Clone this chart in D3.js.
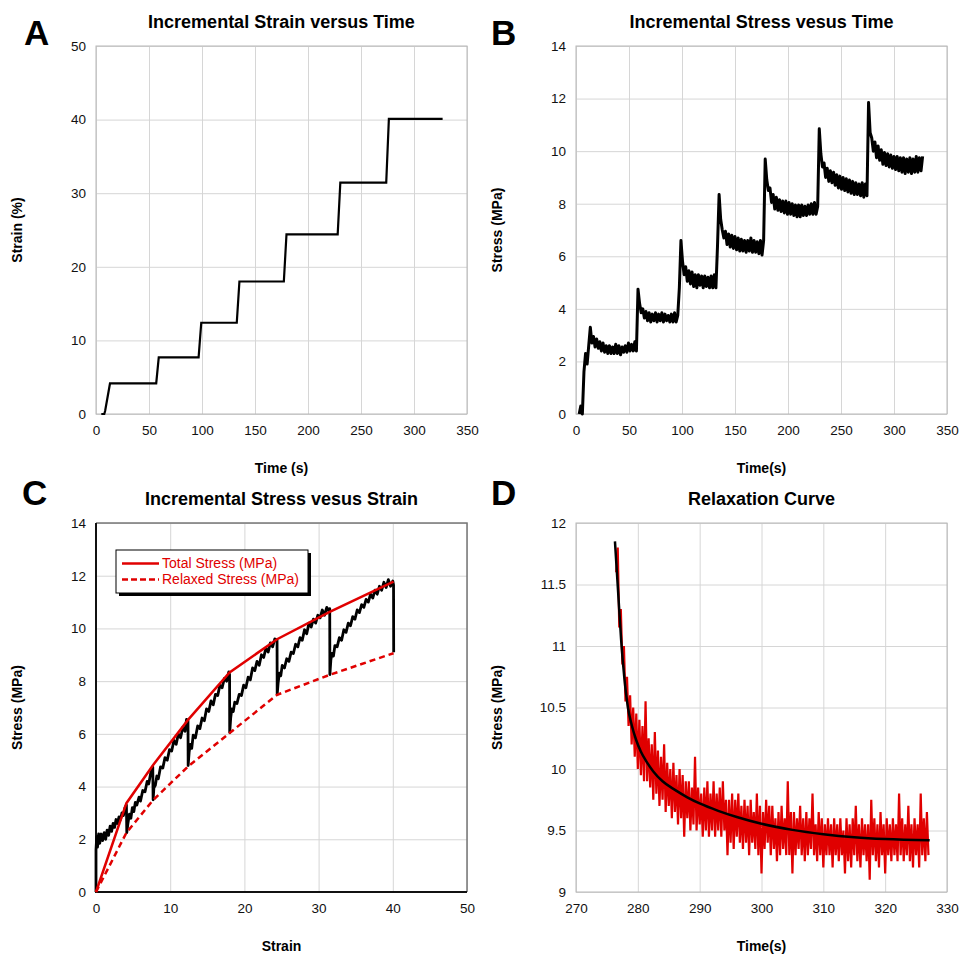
<!DOCTYPE html>
<html>
<head>
<meta charset="utf-8">
<script src="https://cdn.jsdelivr.net/npm/d3@7"></script>
<style>
body { margin: 0; background: #fff; }
svg text { font-family: Arial, "Liberation Sans", sans-serif; }
.grid line { stroke: #d6d6d6; stroke-width: 1; }
.grid text { font-size: 13.5px; fill: #111; }
</style>
</head>
<body>
<div id="chart"></div>
<script>
// ---- tick values
const timeTicks = [0, 50, 100, 150, 200, 250, 300, 350];
const strainTicksA = [0, 10, 20, 30, 40, 50];
const stressTicks = [0, 2, 4, 6, 8, 10, 12, 14];
const strainTicksC = [0, 10, 20, 30, 40, 50];
const relaxTimeTicks = [270, 280, 290, 300, 310, 320, 330];
const relaxStressTicks = [9, 9.5, 10, 10.5, 11, 11.5, 12];

// ---- A: strain (%) vs time (s)
const strainTime = [5, 7.8, 8.6, 13.2, 56.8, 59.2, 96.8, 99.3, 132.8, 135.3, 177.2, 179.7, 228, 230.5, 273.8, 276.3, 327];
const strainVal  = [0, 0, 0.4, 4.15, 4.15, 7.7, 7.7, 12.4, 12.4, 18.0, 18.0, 24.4, 24.4, 31.45, 31.45, 40.1, 40.1];

// ---- B: stress (MPa) sampled every 1.5 s from t = 3 s
const stressStart = 3, stressStep = 1.5;
const stressVal = [
  0.0, 0.3, 0.0, 1.6, 2.3, 1.9, 2.6, 3.3, 2.7, 2.95,
  2.55, 2.85, 2.5, 2.75, 2.4, 2.7, 2.35, 2.6, 2.3, 2.6,
  2.3, 2.55, 2.3, 2.65, 2.3, 2.6, 2.25, 2.55, 2.35, 2.6,
  2.35, 2.7, 2.4, 2.65, 2.4, 2.75, 2.4,
  4.75, 4.2, 3.85, 4.0, 3.65, 3.9, 3.55, 3.85, 3.5, 3.8,
  3.55, 3.85, 3.5, 3.8, 3.55, 3.85, 3.5, 3.8, 3.55, 3.75,
  3.5, 3.8, 3.5, 3.85, 3.5, 3.75,
  4.8, 6.6, 5.8, 5.3, 5.6, 5.05, 5.45, 4.95, 5.4, 4.85,
  5.3, 4.8, 5.3, 4.9, 5.25, 4.8, 5.25, 4.85, 5.2, 4.8,
  5.25, 4.8, 5.3, 4.8,
  6.4, 8.35, 7.4, 7.0, 6.7, 6.95, 6.45, 6.85, 6.35, 6.8,
  6.3, 6.75, 6.25, 6.7, 6.2, 6.65, 6.2, 6.6, 6.15, 6.6,
  6.2, 6.7, 6.15, 6.6, 6.15, 6.55, 6.1, 6.6, 6.05, 6.6,
  9.7, 8.9, 8.5, 8.6, 8.05, 8.35, 7.8, 8.25, 7.75, 8.15,
  7.7, 8.1, 7.65, 8.1, 7.6, 8.05, 7.6, 8.0, 7.55, 7.95,
  7.5, 7.95, 7.5, 7.95, 7.55, 7.9, 7.55, 7.95, 7.6, 8.0,
  7.6, 8.05, 7.6, 7.9,
  10.85, 9.9, 9.4, 9.55, 9.0, 9.35, 8.85, 9.25, 8.8, 9.2,
  8.7, 9.1, 8.6, 9.05, 8.55, 9.0, 8.5, 8.95, 8.45, 8.9,
  8.4, 8.85, 8.35, 8.8, 8.35, 8.75, 8.3, 8.8, 8.25, 8.75,
  8.3,
  11.85, 10.7, 10.5, 10.0, 10.35, 9.75, 10.2, 9.65, 10.05, 9.5,
  9.95, 9.45, 9.9, 9.4, 9.85, 9.35, 9.8, 9.3, 9.8, 9.25,
  9.75, 9.2, 9.75, 9.15, 9.7, 9.2, 9.75, 9.15, 9.7, 9.2,
  9.8, 9.2, 9.75, 9.25, 9.8
];

// ---- C: stress vs strain trace, peak (total) and relaxed envelopes
const cTrace = [
  [0, 0], [0, 1.6], [0.1, 2.1], [0.2, 1.7], [0.35, 2.2], [0.5, 1.85], [0.7, 2.2], [0.9, 1.95],
  [1.1, 2.25], [1.3, 2.0], [1.5, 2.35], [1.7, 2.15], [1.9, 2.5], [2.1, 2.3], [2.3, 2.6], [2.5, 2.45],
  [2.7, 2.75], [2.9, 2.6], [3.1, 2.85], [3.3, 2.75], [3.5, 3.0], [3.7, 2.9], [3.9, 3.2], [4.1, 3.3],
  [4.15, 2.25],
  [4.3, 2.6], [4.5, 2.95], [4.7, 2.8], [4.9, 3.2], [5.1, 3.05], [5.3, 3.4], [5.5, 3.3], [5.8, 3.6],
  [6.0, 3.45], [6.3, 3.85], [6.6, 3.8], [6.9, 4.2], [7.1, 4.1], [7.4, 4.55], [7.65, 4.75],
  [7.7, 3.5],
  [7.8, 3.95], [8.0, 4.05], [8.2, 4.4], [8.4, 4.3], [8.7, 4.75], [9.0, 4.7], [9.3, 5.1], [9.6, 5.0],
  [9.9, 5.4], [10.2, 5.35], [10.5, 5.75], [10.8, 5.6], [11.1, 6.0], [11.4, 5.85], [11.7, 6.25],
  [12.0, 6.1], [12.2, 6.55], [12.4, 6.5],
  [12.42, 4.8],
  [12.55, 5.3], [12.7, 5.6], [12.9, 5.45], [13.1, 5.95], [13.4, 5.85], [13.7, 6.3], [14.0, 6.2],
  [14.3, 6.6], [14.6, 6.5], [14.9, 6.95], [15.2, 6.85], [15.5, 7.25], [15.8, 7.1], [16.1, 7.5],
  [16.4, 7.45], [16.7, 7.85], [17.0, 7.75], [17.3, 8.1], [17.6, 8.0], [17.9, 8.35], [18.0, 8.25],
  [18.02, 6.05],
  [18.15, 6.6], [18.3, 6.95], [18.5, 6.85], [18.7, 7.2], [19.0, 7.15], [19.3, 7.5], [19.6, 7.45],
  [19.9, 7.85], [20.2, 7.75], [20.5, 8.15], [20.8, 8.05], [21.1, 8.5], [21.4, 8.4], [21.7, 8.75],
  [22.0, 8.6], [22.3, 9.0], [22.6, 8.9], [22.9, 9.25], [23.2, 9.1], [23.5, 9.45], [23.8, 9.3],
  [24.1, 9.6], [24.4, 9.55],
  [24.42, 7.5],
  [24.55, 7.95], [24.7, 8.3], [24.9, 8.2], [25.1, 8.6], [25.4, 8.5], [25.7, 8.85], [26.0, 8.75],
  [26.3, 9.1], [26.6, 9.05], [26.9, 9.4], [27.2, 9.3], [27.5, 9.65], [27.8, 9.55], [28.1, 9.95],
  [28.4, 9.8], [28.7, 10.2], [29.0, 10.05], [29.3, 10.35], [29.6, 10.2], [29.9, 10.5], [30.2, 10.4],
  [30.5, 10.7], [30.8, 10.5], [31.1, 10.8], [31.4, 10.65], [31.5, 10.75],
  [31.52, 8.25],
  [31.65, 8.8], [31.8, 9.05], [32.0, 8.95], [32.2, 9.35], [32.5, 9.3], [32.8, 9.65], [33.1, 9.55],
  [33.4, 9.95], [33.7, 9.85], [34.0, 10.2], [34.3, 10.1], [34.6, 10.45], [34.9, 10.35], [35.2, 10.7],
  [35.5, 10.6], [35.8, 10.9], [36.1, 10.8], [36.4, 11.1], [36.7, 11.0], [37.0, 11.3], [37.3, 11.15],
  [37.6, 11.45], [37.9, 11.3], [38.2, 11.6], [38.5, 11.45], [38.8, 11.75], [39.1, 11.55], [39.4, 11.85],
  [39.7, 11.6], [40.0, 11.8], [40.1, 11.65],
  [40.12, 9.1]
];
const stepStrain   = [0, 4.1, 7.7, 12.4, 18.0, 24.4, 31.5, 40.1];
const totalStress  = [0, 3.37, 4.82, 6.53, 8.33, 9.59, 10.63, 11.78];
const relaxStress  = [0, 2.25, 3.49, 4.76, 6.03, 7.48, 8.24, 9.06];

// ---- D: last relaxation, sampled every 0.25 s from t = 276.5 s, plus fitted curve
const relaxStart = 276.5, relaxStep = 0.25;
const relaxVal = [
  11.6, 11.8, 11.15, 11.3, 10.85, 11.0, 10.55, 10.75, 10.35, 10.6,
  10.2, 10.5, 10.1, 10.45, 10.0, 10.4, 9.95, 10.35, 9.9, 10.55,
  9.9, 10.25, 9.85, 10.2, 9.75, 10.3, 9.8, 10.15, 9.7, 10.1,
  9.75, 10.2, 9.65, 10.05, 9.7, 10.0, 9.6, 10.05, 9.65, 9.95,
  9.55, 10.0, 9.6, 9.95, 9.45, 9.9, 9.6, 9.9, 9.5, 9.85,
  9.55, 10.1, 9.5, 9.85, 9.55, 9.8, 9.45, 9.85, 9.5, 9.9,
  9.45, 9.8, 9.5, 9.9, 9.45, 9.8, 9.5, 9.85, 9.45, 9.9,
  9.5, 9.75, 9.3, 9.75, 9.4, 9.8, 9.35, 9.75, 9.45, 9.8,
  9.4, 9.7, 9.35, 9.75, 9.4, 9.7, 9.3, 9.75, 9.4, 9.65,
  9.35, 9.8, 9.3, 9.7, 9.15, 9.65, 9.35, 9.75, 9.4, 9.7,
  9.3, 9.7, 9.35, 9.6, 9.25, 9.65, 9.3, 9.7, 9.35, 9.6,
  9.3, 9.9, 9.3, 9.65, 9.15, 9.65, 9.3, 9.6, 9.35, 9.7,
  9.3, 9.6, 9.25, 9.65, 9.3, 9.6, 9.35, 9.8, 9.3, 9.55,
  9.25, 9.65, 9.3, 9.6, 9.2, 9.55, 9.3, 9.6, 9.3, 9.55,
  9.2, 9.6, 9.3, 9.55, 9.25, 9.6, 9.3, 9.5, 9.15, 9.6,
  9.25, 9.55, 9.2, 9.6, 9.3, 9.7, 9.25, 9.55, 9.2, 9.6,
  9.3, 9.55, 9.25, 9.55, 9.1, 9.75, 9.3, 9.6, 9.25, 9.55,
  9.2, 9.65, 9.3, 9.55, 9.15, 9.6, 9.3, 9.55, 9.25, 9.6,
  9.3, 9.55, 9.25, 9.8, 9.3, 9.6, 9.25, 9.55, 9.3, 9.7,
  9.25, 9.55, 9.2, 9.6, 9.3, 9.55, 9.2, 9.8, 9.3, 9.6,
  9.25, 9.65, 9.3
];
const fitTime = [276.3, 276.8, 277.3, 277.8, 278.4, 279, 279.7, 280.5, 281.4, 282.5, 284, 286, 288, 290, 293, 296, 300, 305, 310, 315, 320, 327.2];
const fitVal  = [11.85, 11.45, 11.05, 10.75, 10.5, 10.36, 10.24, 10.14, 10.06, 9.98, 9.9, 9.83, 9.77, 9.72, 9.66, 9.61, 9.555, 9.505, 9.47, 9.445, 9.43, 9.42];

const red = "#e00000";

const svg = d3.select("#chart")
    .append("svg")
    .attr("width", 960)
    .attr("height", 954);

// builds the frame, grid, tick labels and titles of one panel
function makePanel(p) {
    const g = svg.append("g").attr("transform", `translate(${p.left}, ${p.top})`);
    const x = d3.scaleLinear().domain(p.xDomain).range([0, p.w]);
    const y = d3.scaleLinear().domain(p.yDomain).range([p.h, 0]);

    g.append("g")
        .attr("class", "grid")
        .attr("transform", `translate(0, ${p.h})`)
        .call(d3.axisBottom(x).tickValues(p.xTicks).tickSize(-p.h).tickPadding(11).tickFormat(d => d))
        .call(a => a.select(".domain").remove());

    g.append("g")
        .attr("class", "grid")
        .call(d3.axisLeft(y).tickValues(p.yTicks).tickSize(-p.w).tickPadding(10).tickFormat(d => d))
        .call(a => a.select(".domain").remove());

    if (p.darkFrame) {
        g.append("path").attr("d", `M0,0H${p.w}V${p.h}`)
            .attr("fill", "none").attr("stroke", "#777").attr("stroke-width", 1.5);
        g.append("path").attr("d", `M0,0V${p.h}H${p.w}`)
            .attr("fill", "none").attr("stroke", "#111").attr("stroke-width", 2);
    } else {
        g.append("rect").attr("width", p.w).attr("height", p.h)
            .attr("fill", "none").attr("stroke", "#b8b8b8").attr("stroke-width", 1);
    }

    // title
    g.append("text")
        .attr("x", p.w / 2).attr("y", -18)
        .attr("text-anchor", "middle")
        .style("font-size", "18px").style("font-weight", "bold")
        .text(p.title);

    // x label
    g.append("text")
        .attr("x", p.w / 2).attr("y", p.h + 59)
        .attr("text-anchor", "middle")
        .style("font-size", "14px").style("font-weight", "bold")
        .text(p.xLabel);

    // y label
    g.append("text")
        .attr("transform", `translate(-74, ${p.h / 2}) rotate(-90)`)
        .attr("text-anchor", "middle")
        .style("font-size", "14px").style("font-weight", "bold")
        .text(p.yLabel);

    // panel letter
    svg.append("text")
        .attr("x", p.letterX).attr("y", p.letterY)
        .style("font-size", "35px").style("font-weight", "bold")
        .text(p.letter);

    return { g, x, y };
}

// Panel A
const pa = makePanel({
    left: 96, top: 46, w: 371, h: 368,
    xDomain: [0, 350], yDomain: [0, 50], xTicks: timeTicks, yTicks: strainTicksA,
    title: "Incremental Strain versus Time", xLabel: "Time (s)", yLabel: "Strain (%)",
    letter: "A", letterX: 24, letterY: 45
});
pa.g.append("path")
    .datum(strainTime.map((t, i) => [t, strainVal[i]]))
    .attr("fill", "none").attr("stroke", "#000").attr("stroke-width", 2.2)
    .attr("d", d3.line().x(d => pa.x(d[0])).y(d => pa.y(d[1])));

// Panel B
const pb = makePanel({
    left: 576, top: 46, w: 371, h: 368,
    xDomain: [0, 350], yDomain: [0, 14], xTicks: timeTicks, yTicks: stressTicks,
    title: "Incremental Stress vesus Time", xLabel: "Time(s)", yLabel: "Stress (MPa)",
    letter: "B", letterX: 491, letterY: 45
});
pb.g.append("path")
    .datum(stressVal.map((v, i) => [stressStart + i * stressStep, v]))
    .attr("fill", "none").attr("stroke", "#000").attr("stroke-width", 3)
    .attr("stroke-linejoin", "round")
    .attr("d", d3.line().x(d => pb.x(d[0])).y(d => pb.y(d[1])));

// Panel C
const pc = makePanel({
    left: 96, top: 523, w: 371, h: 369,
    xDomain: [0, 50], yDomain: [0, 14], xTicks: strainTicksC, yTicks: stressTicks,
    title: "Incremental Stress vesus Strain", xLabel: "Strain", yLabel: "Stress (MPa)",
    letter: "C", letterX: 22, letterY: 505, darkFrame: true
});
const cLine = d3.line().x(d => pc.x(d[0])).y(d => pc.y(d[1]));
pc.g.append("path")
    .datum(cTrace)
    .attr("fill", "none").attr("stroke", "#000").attr("stroke-width", 2.8)
    .attr("stroke-linejoin", "round")
    .attr("d", cLine);
pc.g.append("path")
    .datum(stepStrain.map((s, i) => [s, relaxStress[i]]))
    .attr("fill", "none").attr("stroke", red).attr("stroke-width", 2.5)
    .attr("stroke-dasharray", "6,4")
    .attr("d", cLine);
pc.g.append("path")
    .datum(stepStrain.map((s, i) => [s, totalStress[i]]))
    .attr("fill", "none").attr("stroke", red).attr("stroke-width", 2.5)
    .attr("d", cLine);

// legend
const legend = svg.append("g").attr("transform", "translate(116, 550)");
legend.append("rect").attr("x", 3).attr("y", 3).attr("width", 192).attr("height", 43).attr("fill", "#000");
legend.append("rect").attr("width", 192).attr("height", 43).attr("fill", "#fff").attr("stroke", "#000").attr("stroke-width", 1);
const legendItems = ["Total Stress (MPa)", "Relaxed Stress (MPa)"];
legendItems.forEach((name, i) => {
    legend.append("line")
        .attr("x1", 6).attr("x2", 43).attr("y1", 13.5 + i * 16).attr("y2", 13.5 + i * 16)
        .attr("stroke", red).attr("stroke-width", 2.5)
        .attr("stroke-dasharray", i === 1 ? "6,3" : null);
    legend.append("text")
        .attr("x", 46).attr("y", 13.5 + i * 16).attr("dy", "0.35em")
        .attr("fill", red)
        .style("font-size", "14px")
        .text(name);
});

// Panel D
const pd = makePanel({
    left: 576, top: 523, w: 371, h: 369,
    xDomain: [270, 330], yDomain: [9, 12], xTicks: relaxTimeTicks, yTicks: relaxStressTicks,
    title: "Relaxation Curve", xLabel: "Time(s)", yLabel: "Stress (MPa)",
    letter: "D", letterX: 491, letterY: 505
});
pd.g.append("path")
    .datum(relaxVal.map((v, i) => [relaxStart + i * relaxStep, v]))
    .attr("fill", "none").attr("stroke", red).attr("stroke-width", 2.2)
    .attr("d", d3.line().x(d => pd.x(d[0])).y(d => pd.y(d[1])));
pd.g.append("path")
    .datum(fitTime.map((t, i) => [t, fitVal[i]]))
    .attr("fill", "none").attr("stroke", "#000").attr("stroke-width", 2.5)
    .attr("d", d3.line().curve(d3.curveMonotoneX).x(d => pd.x(d[0])).y(d => pd.y(d[1])));
</script>
</body>
</html>
